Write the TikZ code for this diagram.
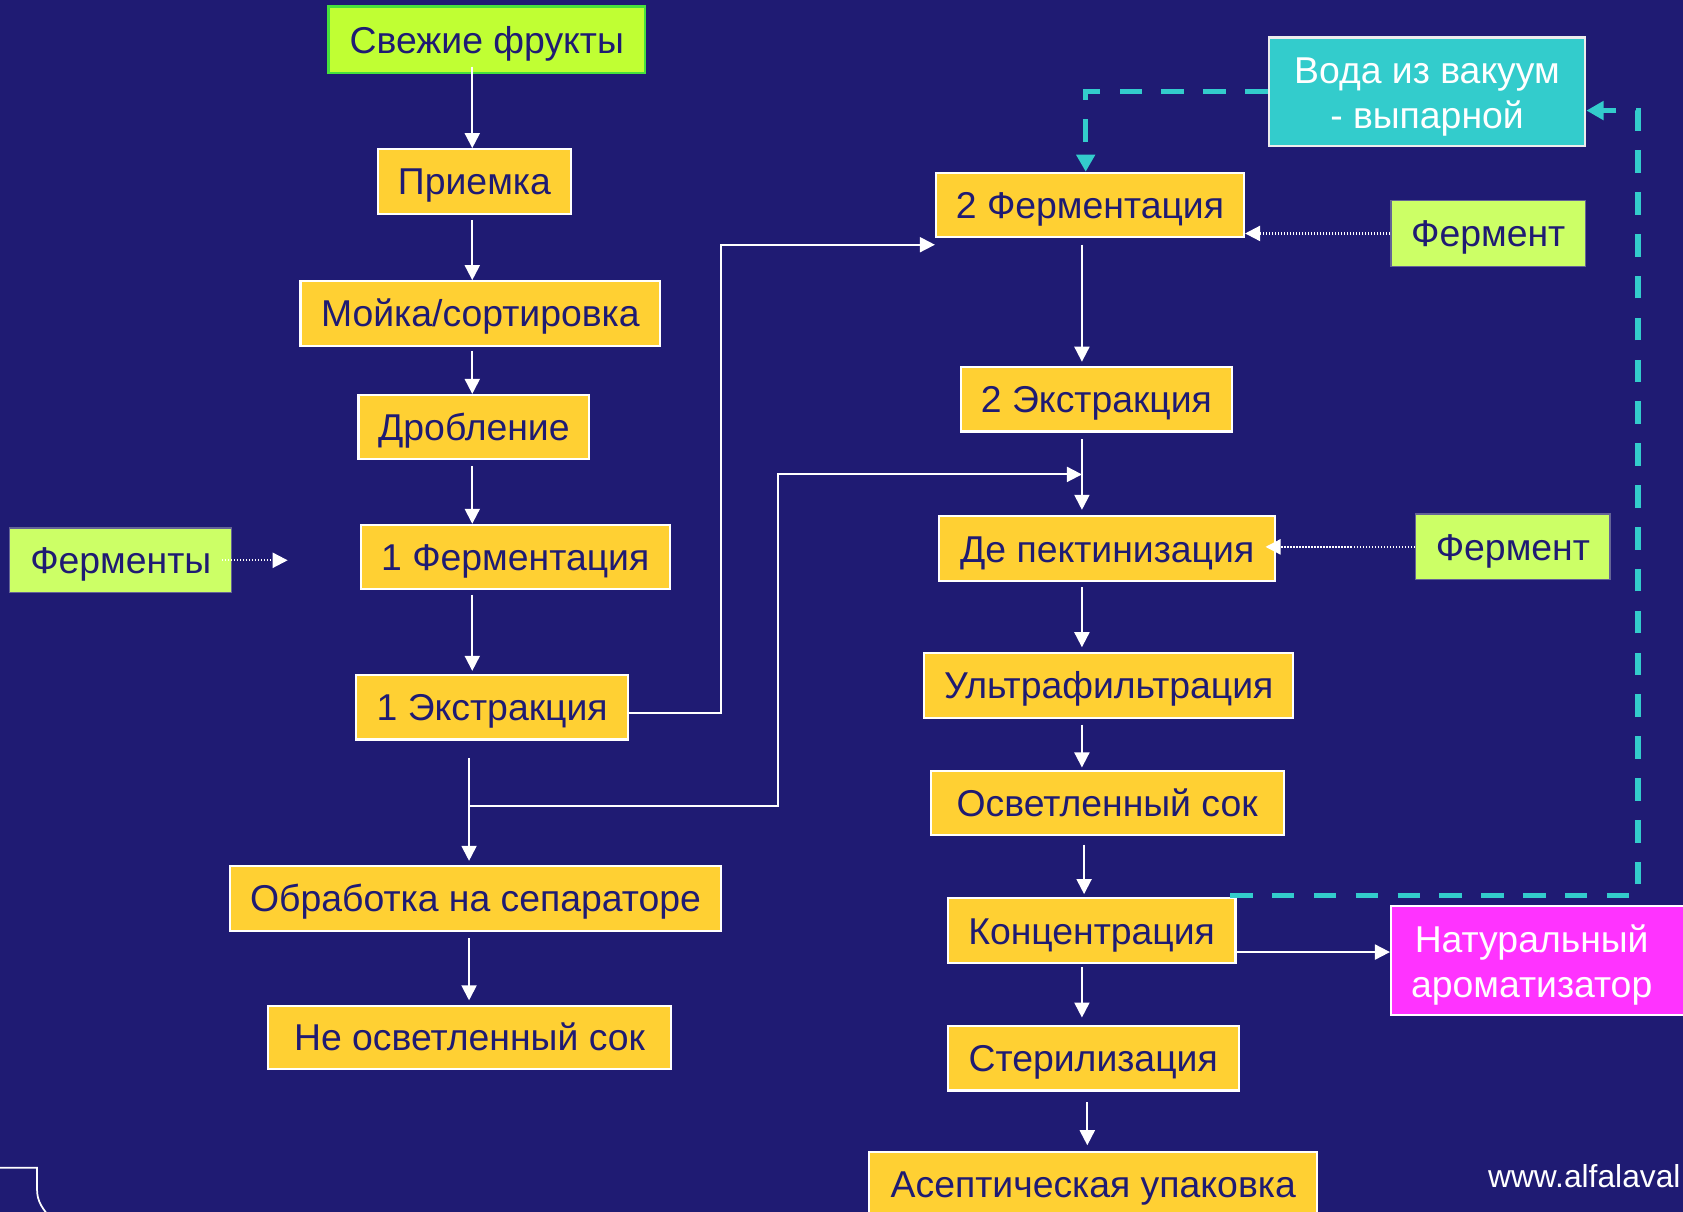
\documentclass[tikz,border=0pt]{standalone}
\usepackage{fontspec}
\setmainfont{Liberation Sans}
\usetikzlibrary{arrows.meta,calc}
\definecolor{bg}{RGB}{31,27,115}
\definecolor{yel}{RGB}{255,208,51}
\definecolor{lime}{RGB}{192,255,51}
\definecolor{limeborder}{RGB}{70,225,60}
\definecolor{lgreen}{RGB}{204,255,102}
\definecolor{lgborder}{RGB}{100,100,150}
\definecolor{tealc}{RGB}{51,204,204}
\definecolor{magc}{RGB}{255,51,255}
\definecolor{navytxt}{RGB}{31,27,115}
\newcommand\boxfont{\fontsize{17.4}{21}\selectfont}
\newcommand\twolines[2]{\raisebox{-2.4pt}[\height][\depth]{\begin{tabular}{@{}c@{}}#1\\#2\end{tabular}}}
\begin{document}
\begin{tikzpicture}[x=0.5pt,y=-0.5pt,
  base/.style={rectangle, inner sep=0pt, font=\boxfont, text=navytxt, line width=1pt},
  one/.style={text height=15.6pt, text depth=3pt},
  ybox/.style={base, one, fill=yel, draw=white},
  limebox/.style={base, one, fill=lime, draw=limeborder},
  gbox/.style={base, one, fill=lgreen, draw=lgborder, line width=0.6pt},
  tbox/.style={base, fill=tealc, draw=white!85!gray, text=white},
  mbox/.style={base, fill=magc, draw=white, text=white},
  flow/.style={draw=white, line width=0.9pt, -{Triangle[length=7pt,width=7pt]}},
  dotflow/.style={draw=white, line width=1pt, dash pattern=on 0.7pt off 0.7pt, -{Triangle[length=7pt,width=7pt]}},
  tealflow/.style={draw=tealc, line width=2.4pt, dash pattern=on 10.5pt off 9pt, -{Triangle[length=8pt,width=8.5pt]}}
]
\useasboundingbox (0,0) rectangle (1568,1129);
\clip (0,0) rectangle (1568,1129);
\fill[bg] (0,0) rectangle (1568,1129);

% reference columns
\coordinate (L) at (440,0);
\coordinate (L2) at (437,0);
\coordinate (R) at (1008,0);
\coordinate (R2) at (1010,0);
\coordinate (R3) at (1013,0);

% left column
\node[limebox, minimum width=147.5pt, minimum height=31pt] (fresh) at (453.5,37) {Свежие фрукты};
\node[ybox, minimum width=90pt, minimum height=30pt] (priem) at (442,169) {Приемка};
\node[ybox, minimum width=167.5pt, minimum height=30pt] (moyka) at (447.5,292) {Мойка/сортировка};
\node[ybox, minimum width=107.5pt, minimum height=30pt] (drob) at (441.5,398) {Дробление};
\node[gbox, minimum width=103.5pt, minimum height=30pt] (fermenty) at (112.5,522) {Ферменты};
\node[ybox, minimum width=144pt, minimum height=30pt] (ferm1) at (480,519) {1 Ферментация};
\node[ybox, minimum width=126.5pt, minimum height=30pt] (extr1) at (458.5,659) {1 Экстракция};
\node[ybox, minimum width=229pt, minimum height=30pt] (sep) at (443,837) {Обработка на сепараторе};
\node[ybox, minimum width=187.5pt, minimum height=29.5pt] (neosv) at (437.5,966.5) {Не осветленный сок};

% right column
\node[tbox, minimum width=147.5pt, minimum height=50.5pt] (voda) at (1329.5,85.5) {\twolines{Вода из вакуум}{- выпарной}};
\node[ybox, minimum width=143.5pt, minimum height=30pt] (ferm2) at (1015.5,191) {2 Ферментация};
\node[gbox, minimum width=90.5pt, minimum height=30.5pt] (fermtop) at (1386.5,217.5) {Фермент};
\node[ybox, minimum width=126.5pt, minimum height=30pt] (extr2) at (1021.5,372) {2 Экстракция};
\node[ybox, minimum width=156.5pt, minimum height=30pt] (depect) at (1031.5,511) {Де пектинизация};
\node[gbox, minimum width=90.5pt, minimum height=30.5pt] (fermmid) at (1409.5,509.5) {Фермент};
\node[ybox, minimum width=172pt, minimum height=30.5pt] (ultra) at (1033,638.5) {Ультрафильтрация};
\node[ybox, minimum width=164.5pt, minimum height=30pt] (osv) at (1031.5,748) {Осветленный сок};
\node[ybox, minimum width=134pt, minimum height=30pt] (konc) at (1017,867) {Концентрация};
\node[mbox, minimum width=152pt, minimum height=51pt] (natur) at (1448,895)
  {\twolines{Натуральный}{ароматизатор}\rule{21pt}{0pt}};
\node[ybox, minimum width=135.5pt, minimum height=30pt] (steril) at (1018.5,986) {Стерилизация};
\node[ybox, minimum width=208.5pt, minimum height=30pt] (asept) at (1018.5,1103) {Асептическая упаковка};
\node[font=\fontsize{14.8}{17}\selectfont, text=white, anchor=base west, inner sep=0pt] (www) at (1386,1106) {www.alfalaval};

% left column arrows
\draw[flow] ($(fresh.south -| L)+(0,3.5pt)$) -- (priem.north -| L);
\draw[flow] ($(priem.south -| L)+(0,-2.5pt)$) -- (moyka.north -| L);
\draw[flow] ($(moyka.south -| L)+(0,-2pt)$) -- (drob.north -| L);
\draw[flow] ($(drob.south -| L)+(0,-2.5pt)$) -- (ferm1.north -| L);
\draw[flow] ($(ferm1.south -| L)+(0,-2pt)$) -- ($(extr1.north -| L)+(0,1.5pt)$);
\draw[flow] ($(extr1.south -| L2)+(0,-8pt)$) -- ($(sep.north -| L2)+(0,2pt)$);
\draw[flow] ($(sep.south -| L2)+(0,-3pt)$) -- ($(neosv.north -| L2)+(0,2pt)$);
\coordinate (fe) at (268,522);
\draw[dotflow] ($(fermenty.east)+(-5pt,0)$) -- (fe);

% 1 Экстракция -> 2 Ферментация
\draw[flow] ($(extr1.east)+(0,-2.5pt)$) -| (672,400) |- ($(ferm2.south west)+(0,-3pt)$);
% branch to Де пектинизация line
\coordinate (br) at (437,751);
\draw[flow] (br) -| (725,600) |- ($(extr2.south -| R)+(0,-19.5pt)$);

% right column arrows
\draw[flow] ($(ferm2.south -| R)+(0,-3pt)$) -- ($(extr2.north -| R)+(0,2pt)$);
\draw[flow] ($(extr2.south -| R)+(0,-3pt)$) -- ($(depect.north -| R)+(0,2.5pt)$);
\draw[flow] ($(depect.south -| R)+(0,-2.5pt)$) -- ($(ultra.north -| R)+(0,2pt)$);
\draw[flow] ($(ultra.south -| R)+(0,-2.5pt)$) -- ($(osv.north -| R)+(0,1pt)$);
\draw[flow] ($(osv.south -| R2)+(0,-4pt)$) -- ($(konc.north -| R2)+(0,1.5pt)$);
\draw[flow] ($(konc.south -| R)+(0,-1.5pt)$) -- ($(steril.north -| R)+(0,3.5pt)$);
\draw[flow] ($(steril.south -| R3)+(0,-5pt)$) -- ($(asept.north -| R3)+(0,2.5pt)$);
\coordinate (ke) at ($(konc.east)+(0,-10pt)$);
\draw[flow] (ke) -- (natur.west |- ke);

% enzyme inputs
\draw[dotflow] (fermtop.west) -- (ferm2.east |- fermtop.west);
\draw[dotflow] (fermmid.west) -- ($(depect.east |- fermmid.west)+(-5pt,0)$);

% water recycle (teal dashed)
\draw[tealflow] (voda.west) -| ($(ferm2.north)+(-2pt,0)$);
\coordinate (ks) at ($(konc.north east)+(-3pt,1pt)$);
\coordinate (vr) at (1526,103);
\draw[tealflow] (ks) -| (vr) -- (voda.east |- vr);

% decorative corner bottom left
\draw[white, line width=0.8pt] (0,1088) -- (34.5,1088) -- (34.5,1108)
  .. controls (34.5,1120) and (40,1126) .. (47,1135);
\end{tikzpicture}
\end{document}
